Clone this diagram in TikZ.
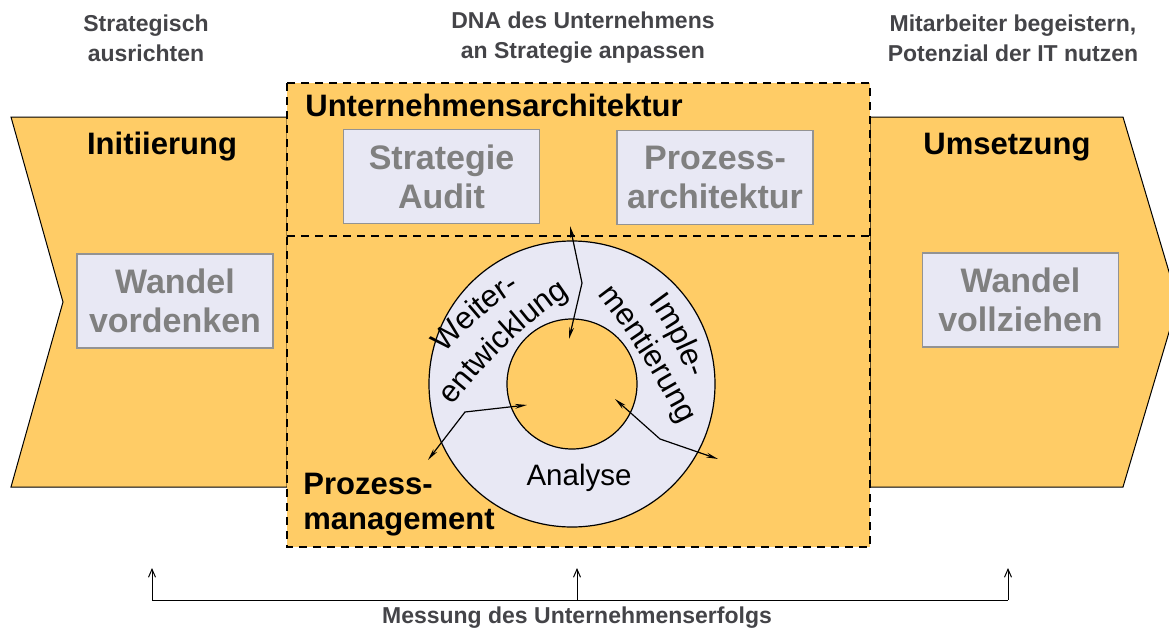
\documentclass[tikz,border=0pt]{standalone}
\usepackage{fontspec}
\setmainfont{Liberation Sans}
\usetikzlibrary{arrows.meta,decorations.text}
\definecolor{phase}{RGB}{255,204,102}
\definecolor{card}{RGB}{232,232,244}
\definecolor{cardtext}{RGB}{128,128,128}
\definecolor{note}{RGB}{68,68,72}

\begin{document}
\begin{tikzpicture}[x=0.5pt, y=-0.5pt,
  phasebox/.style={fill=phase, draw=black, line width=0.5pt},
  zone/.style={draw=black, line width=1.4pt, dash pattern=on 4pt off 3pt},
  card/.style={fill=card, draw=cardtext!85, line width=0.7pt, inner sep=0pt,
    minimum width=98pt, minimum height=47pt, align=center, text=cardtext,
    font=\fontsize{17}{19.5}\selectfont\bfseries},
  head/.style={inner sep=0pt, font=\fontsize{15.5}{17.5}\selectfont\bfseries},
  goal/.style={align=center, inner sep=0pt, text=note,
    font=\fontsize{11.5}{15}\selectfont\bfseries},
  loopline/.style={line width=0.6pt,
    {Stealth[open,length=6pt,width=2.4pt]}-{Stealth[open,length=6pt,width=2.4pt]}},
  ringtext/.style={decorate, decoration={text along path, text align=center,
    text={|\fontsize{15.5}{17}\selectfont|#1}}}
]
\useasboundingbox (0,0) rectangle (1169,632);
\clip (0,0) rectangle (1169,632);

% phases
\draw[phasebox] (11,117) -- (287,117) -- (287,487) -- (11,487) -- (63,302) -- cycle;
\draw[phasebox] (870,117) -- (1123,117) -- (1178,302) -- (1123,487) -- (870,487) -- cycle;
\fill[phase] (287,83) rectangle (870,547);
\draw[zone] (287,83) rectangle (870,547);
\draw[zone] (287,236) -- (870,236);

\node[head] (init) at (162,147) {Initiierung};
\node[head] (impl) at (1007,147) {Umsetzung};
\node[head, anchor=west] (arch) at (305,105) {Unternehmensarchitektur};
\node[head, anchor=west, align=left] (pm) at (303,505) {Prozess-\\management};

\node[card] (think) at (175,301) {Wandel\\vordenken};
\node[card] (audit) at (441.5,176.5) {Strategie\\Audit};
\node[card] (procarch) at (715,177.5) {Prozess-\\architektur};
\node[card] (live) at (1020.5,300) {Wandel\\vollziehen};

% process cycle
\coordinate (hub) at (572,384);
\draw[fill=card, line width=0.6pt] (hub) circle[radius=143];
\draw[fill=phase, line width=0.6pt] (hub) circle[radius=65];

\path[ringtext=Weiter-] (437,363) .. controls (463,330) and (494,304) .. (530,283);
\path[ringtext=entwicklung] (447,414) .. controls (482,365) and (525,323) .. (578,289);
\path[ringtext=Imple-] (644,296) .. controls (665,322) and (680,351) .. (691,386);
\path[ringtext=mentierung] (591,286) .. controls (628,332) and (659,381) .. (685,434);
\node[inner sep=0pt, font=\fontsize{14.75}{16}\selectfont] (ana) at (579,478) {Analyse};

\coordinate (a1) at (570,226);
\coordinate (a2) at (569,339);
\coordinate (b1) at (615,399);
\coordinate (b2) at (718,459);
\coordinate (c1) at (527,405);
\coordinate (c2) at (428,460);
\draw[loopline] (a1) -- (582,283) -- (a2);
\draw[loopline] (b1) -- (660,439) -- (b2);
\draw[loopline] (c1) -- (465,412) -- (c2);

% goals
\node[goal] (g1) at (146,38) {Strategisch\\ausrichten};
\node[goal] (g2) at (583,38) {DNA des Unternehmens\\an Strategie anpassen};
\node[goal] (g3) at (1013,38) {Mitarbeiter begeistern,\\Potenzial der IT nutzen};

% measurement
\node[goal] (measure) at (577,618) {Messung des Unternehmenserfolgs};
\coordinate (m1) at (152,600);
\coordinate (m2) at (577,600);
\coordinate (m3) at (1008,600);
\draw[line width=0.5pt] (m1) -- (m3);
\draw[line width=0.5pt, -{Straight Barb[length=4pt,width=3.5pt]}] (m1) -- ++(0,-32);
\draw[line width=0.5pt, -{Straight Barb[length=4pt,width=3.5pt]}] (m2) -- ++(0,-32);
\draw[line width=0.5pt, -{Straight Barb[length=4pt,width=3.5pt]}] (m3) -- ++(0,-32);
\end{tikzpicture}
\end{document}
